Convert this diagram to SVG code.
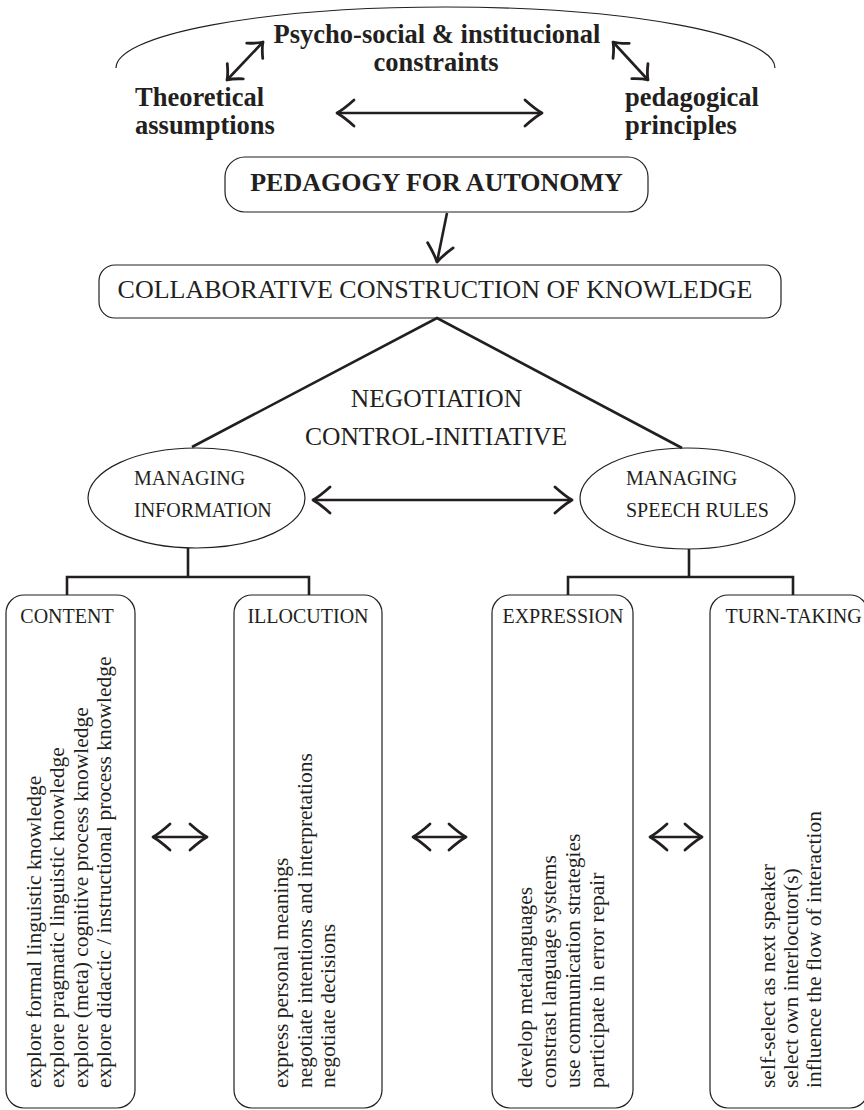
<svg xmlns="http://www.w3.org/2000/svg" width="864" height="1110" viewBox="0 0 864 1110">
<defs>
<style>
text{font-family:"Liberation Serif","Times New Roman",serif;fill:#231f20}
.b{font-weight:bold;font-size:26.5px}
.pa{font-weight:bold;font-size:26px;text-anchor:middle}
.big{font-size:26px;text-anchor:middle}
.neg{font-size:25.5px;text-anchor:middle}
.el{font-size:20px}
.hd{font-size:20px;text-anchor:middle}
.v{font-size:21.5px}
.box{fill:none;stroke:#231f20;stroke-width:1.2}
.thick{fill:none;stroke:#231f20;stroke-width:2.6}
.arr{fill:none;stroke:#231f20;stroke-width:2.6;marker-start:url(#ah);marker-end:url(#ah)}
.arrs{fill:none;stroke:#231f20;stroke-width:2.6;marker-start:url(#ahs);marker-end:url(#ahs)}
.arr1{fill:none;stroke:#231f20;stroke-width:2.6;marker-end:url(#ah)}
</style>
<marker id="ah" markerUnits="userSpaceOnUse" viewBox="-20 -16 22 32" refX="0" refY="0" markerWidth="22" markerHeight="32" orient="auto-start-reverse" overflow="visible">
<path d="M-17,-13 Q-7,-4 0,0 Q-7,4 -17,13" fill="none" stroke="#231f20" stroke-width="2.8" stroke-linecap="round" stroke-linejoin="round"/>
</marker>
<marker id="ahs" markerUnits="userSpaceOnUse" viewBox="-16 -14 18 28" refX="0" refY="0" markerWidth="18" markerHeight="28" orient="auto-start-reverse" overflow="visible">
<path d="M-12,-11 Q-5,-3 0,0 Q-5,3 -12,11" fill="none" stroke="#231f20" stroke-width="2.8" stroke-linecap="round" stroke-linejoin="round"/>
</marker>
</defs>
<rect width="864" height="1110" fill="#fff"/>

<g id="frame">
<path class="box" d="M116,68 A329.5,61 0 0 1 775,68"/>
</g>

<g id="n-psycho">
<text class="b" x="437" y="43" text-anchor="middle">Psycho-social &amp; institucional</text>
<text class="b" x="436" y="71" text-anchor="middle">constraints</text>
</g>
<g id="n-theoretical">
<text class="b" x="135" y="106">Theoretical</text>
<text class="b" x="135" y="134">assumptions</text>
</g>
<g id="n-pedagogical">
<text class="b" x="625" y="106">pedagogical</text>
<text class="b" x="625" y="134">principles</text>
</g>

<g id="n-pedagogy">
<rect class="box" x="225" y="157" width="423" height="55" rx="20"/>
<text class="pa" x="436.5" y="191">PEDAGOGY FOR AUTONOMY</text>
</g>

<g id="n-collab">
<rect class="box" x="99" y="265" width="682" height="53" rx="16"/>
<text class="big" x="435" y="298">COLLABORATIVE CONSTRUCTION OF KNOWLEDGE</text>
</g>

<g id="n-negotiation">
<text class="neg" x="436.5" y="407">NEGOTIATION</text>
<text class="neg" x="436" y="445">CONTROL-INITIATIVE</text>
</g>

<g id="n-info">
<ellipse class="box" cx="196.5" cy="498" rx="108.5" ry="50"/>
<text class="el" x="134" y="485">MANAGING</text>
<text class="el" x="134" y="517">INFORMATION</text>
</g>
<g id="n-speech">
<ellipse class="box" cx="687.5" cy="498.5" rx="107.5" ry="50.5"/>
<text class="el" x="626" y="485">MANAGING</text>
<text class="el" x="626" y="517">SPEECH RULES</text>
</g>

<g id="n-content">
<rect class="box" x="6" y="595" width="129" height="513" rx="18"/>
<text class="hd" x="67" y="623">CONTENT</text>
<text class="v" transform="rotate(-90)" x="-1088" y="40.5">explore formal linguistic knowledge<tspan x="-1088" dy="23.5">explore pragmatic linguistic knowledge</tspan><tspan x="-1088" dy="23.5">explore (meta) cognitive process knowledge</tspan><tspan x="-1088" dy="23.5">explore didactic / instructional process knowledge</tspan></text>
</g>
<g id="n-illocution">
<rect class="box" x="234" y="595" width="148" height="513" rx="18"/>
<text class="hd" x="308" y="623">ILLOCUTION</text>
<text class="v" transform="rotate(-90)" x="-1088" y="288">express personal meanings<tspan x="-1088" dy="23.5">negotiate intentions and interpretations</tspan><tspan x="-1088" dy="23.5">negotiate decisions</tspan></text>
</g>
<g id="n-expression">
<rect class="box" x="492" y="595" width="141" height="513" rx="18"/>
<text class="hd" x="563" y="623">EXPRESSION</text>
<text class="v" transform="rotate(-90)" x="-1088" y="532">develop metalanguages<tspan x="-1088" dy="24">constrast language systems</tspan><tspan x="-1088" dy="24">use communication strategies</tspan><tspan x="-1088" dy="24">participate in error repair</tspan></text>
</g>
<g id="n-turntaking">
<rect class="box" x="710" y="595" width="158" height="513" rx="18"/>
<text class="hd" x="793.5" y="623">TURN-TAKING</text>
<text class="v" transform="rotate(-90)" x="-1088" y="775">self-select as next speaker<tspan x="-1088" dy="23">select own interlocutor(s)</tspan><tspan x="-1088" dy="23">influence the flow of interaction</tspan></text>
</g>

<g id="connectors">
<line class="arrs" x1="227" y1="80" x2="263" y2="42"/>
<line class="arrs" x1="613" y1="42" x2="648" y2="80"/>
<line class="arr" x1="337" y1="113" x2="542" y2="113"/>
<line class="arr1" x1="447" y1="213" x2="437" y2="262"/>
<polyline class="thick" points="192,447 437,318 682,448"/>
<line class="arr" x1="313" y1="500" x2="572" y2="500"/>
<line class="thick" x1="188" y1="548" x2="188" y2="577"/>
<polyline class="thick" points="67,595 67,577 309,577 309,595"/>
<line class="thick" x1="689" y1="549" x2="689" y2="577"/>
<polyline class="thick" points="568,595 568,577 793,577 793,595"/>
<line class="arr" x1="153" y1="837" x2="207" y2="837"/>
<line class="arr" x1="413" y1="837" x2="466" y2="837"/>
<line class="arr" x1="650" y1="837" x2="702" y2="837"/>
</g>
</svg>
